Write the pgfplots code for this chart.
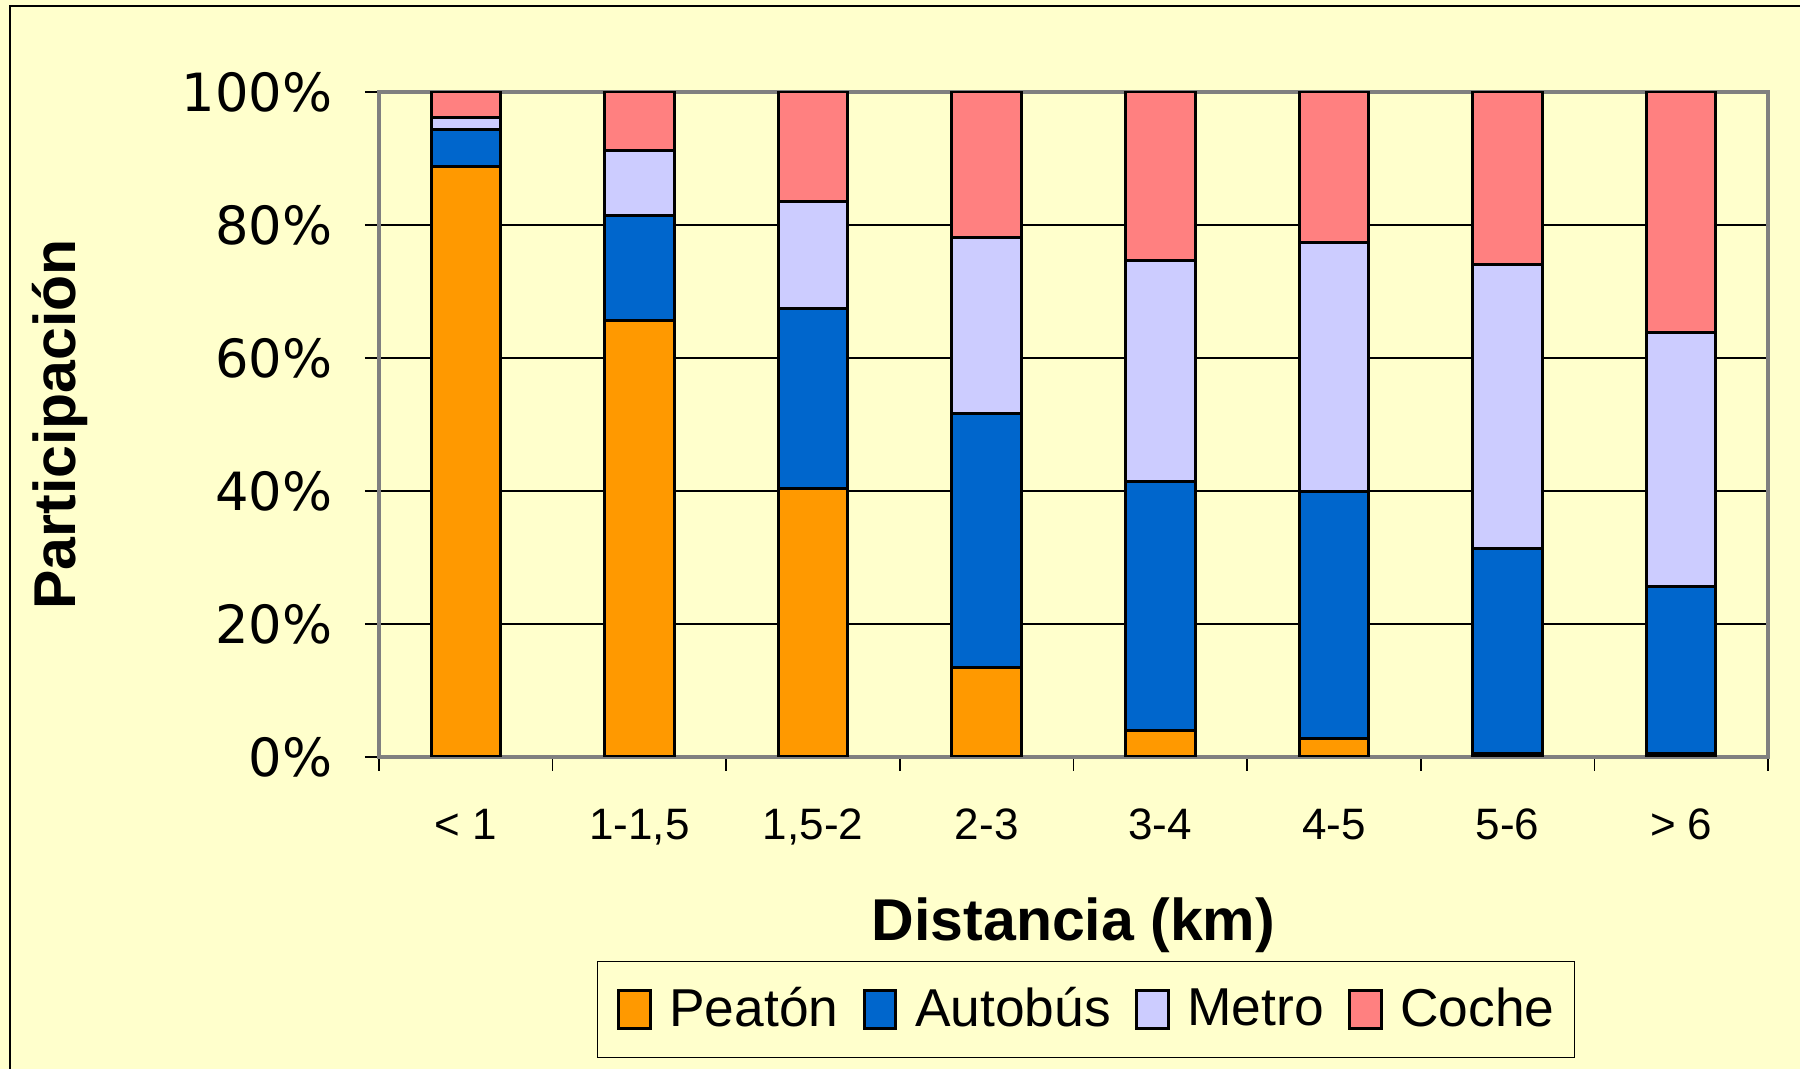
\documentclass[border=0pt]{standalone}
\usepackage{pgfplots}
\pgfplotsset{compat=1.18}
\usepackage{fontspec}
\setmainfont{Liberation Sans}
\newfontfamily\dejavu{DejaVu Sans}
\definecolor{bg}{HTML}{FFFFCC}
\definecolor{peaton}{HTML}{FF9900}
\definecolor{autobus}{HTML}{0066CC}
\definecolor{metro}{HTML}{CCCCFF}
\definecolor{coche}{HTML}{FF8080}
\definecolor{axgray}{HTML}{808080}
\pgfplotsset{
  mylegend/.style={legend image code/.code={\draw[##1, line width=0.9pt] (0pt,-5.8pt) rectangle (9.4pt,5.8pt);}},
}
\begin{document}
\begin{tikzpicture}
\path[use as bounding box, fill=bg] (0,0) rectangle (540pt,320.7pt);
\draw[black, line width=0.6pt] (3pt,-1pt) -- (3pt,318.9pt) -- (541pt,318.9pt);
\begin{axis}[
  at={(113.7pt,93.6pt)}, anchor=south west,
  scale only axis, width=416.7pt, height=199.5pt,
  ybar stacked, bar width=0.4,
  xmin=-0.5, xmax=7.5, ymin=0, ymax=100,
  xtick={0,...,7},
  xticklabels={{< 1},{1-1,5},{1,5-2},{2-3},{3-4},{4-5},{5-6},{> 6}},
  minor xtick={-0.5,0.5,...,7.5},
  ytick={0,20,...,100},
  yticklabels={0\%,20\%,40\%,60\%,80\%,100\%},
  xtick pos=bottom, ytick pos=left,
  tick align=outside,
  major tick length=4.2pt, minor tick length=4.2pt,
  major x tick style={draw=none},
  minor x tick style={black, line width=0.5pt},
  major y tick style={black, line width=0.5pt},
  ymajorgrids,
  major grid style={black, line width=0.45pt},
  axis line style={axgray, line width=1pt},
  axis background/.style={fill=bg},
  xticklabel style={font=\fontsize{13.2}{15}\selectfont, anchor=base, yshift=-20.5pt},
  yticklabel style={font=\dejavu\fontsize{15.8}{18}\selectfont, anchor=east, inner xsep=0pt, xshift=-9.6pt},
  xlabel={Distancia (km)},
  ylabel={Participación},
  xlabel style={font=\bfseries\fontsize{17.7}{20}\selectfont, at={(axis description cs:0.5,-0.253)}, anchor=center},
  ylabel style={font=\bfseries\fontsize{17.7}{20}\selectfont, at={(axis description cs:-0.2297,0.5)}, anchor=center, rotate=0},
  legend columns=4,
  legend style={at={(0.509,-0.3797)}, anchor=center, draw=black, line width=0.5pt, fill=bg,
    font=\fontsize{16}{19}\selectfont,
    nodes={inner xsep=0pt, inner ysep=0pt},
    /tikz/every odd column/.append style={column sep=5.3pt},
    /tikz/every even column/.append style={column sep=7.4pt},
    inner xsep=6pt, inner ysep=7.8pt},
]
\addplot[fill=peaton, draw=black, line width=0.9pt, mylegend] coordinates {(0,88.8) (1,65.6) (2,40.4) (3,13.5) (4,4.0) (5,2.8) (6,0.5) (7,0.5)};
\addplot[fill=autobus, draw=black, line width=0.9pt, mylegend] coordinates {(0,5.5) (1,15.9) (2,27.0) (3,38.1) (4,37.5) (5,37.1) (6,30.9) (7,25.2)};
\addplot[fill=metro, draw=black, line width=0.9pt, mylegend] coordinates {(0,1.9) (1,9.7) (2,16.2) (3,26.5) (4,33.1) (5,37.5) (6,42.7) (7,38.2)};
\addplot[fill=coche, draw=black, line width=0.9pt, mylegend] coordinates {(0,3.8) (1,8.8) (2,16.4) (3,21.9) (4,25.4) (5,22.6) (6,25.9) (7,36.1)};
\legend{Peatón,Autobús,Metro,Coche}
\end{axis}
\end{tikzpicture}
\end{document}
